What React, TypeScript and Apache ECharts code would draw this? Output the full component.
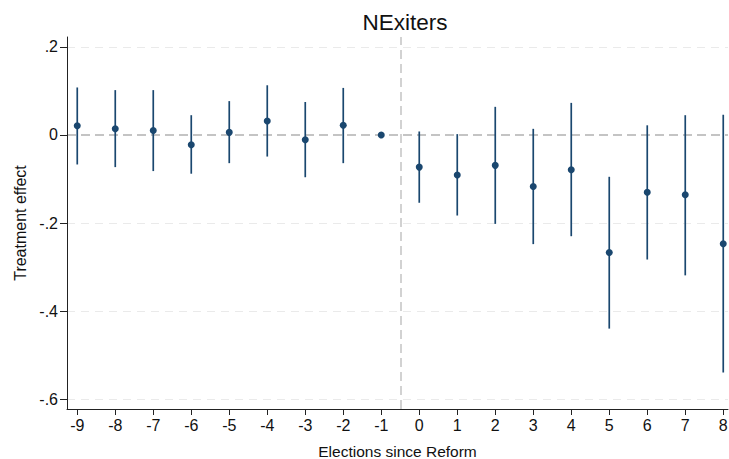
import React, { useEffect, useRef } from "react";
import * as echarts from "echarts";

const elections = [-9, -8, -7, -6, -5, -4, -3, -2, -1, 0, 1, 2, 3, 4, 5, 6, 7, 8];
const estimates = [0.021, 0.014, 0.01, -0.022, 0.006, 0.032, -0.011, 0.022, 0, -0.073, -0.091, -0.069, -0.117, -0.079, -0.267, -0.13, -0.136, -0.247];
const ciLow = [-0.067, -0.073, -0.082, -0.088, -0.064, -0.049, -0.096, -0.064, null, -0.154, -0.183, -0.202, -0.248, -0.23, -0.44, -0.283, -0.319, -0.54];
const ciHigh = [0.108, 0.102, 0.102, 0.045, 0.077, 0.113, 0.075, 0.107, null, 0.008, 0.002, 0.064, 0.014, 0.073, -0.095, 0.022, 0.045, 0.046];
const yTicks = [-0.6, -0.4, -0.2, 0, 0.2];
const gridValues = [-0.6, -0.4, -0.2, 0.2];
const reformLine = -0.5;

const fmtY = (v: number) => {
  if (v === 0) return "0";
  const s = v.toFixed(1);
  return s.replace("0.", ".");
};

export default function App() {
  const ref = useRef<HTMLDivElement>(null);
  useEffect(() => {
    if (!ref.current) return;
    const chart = echarts.init(ref.current, undefined, { renderer: "svg" });
    const navy = "#1a476f";
    const font = "Liberation Sans, Arial, Helvetica, sans-serif";
    const ciData = elections
      .map((x, i) => [x, ciLow[i], ciHigh[i]])
      .filter((d) => d[1] !== null);
    chart.setOption({
      animation: false,
      backgroundColor: "#ffffff",
      title: {
        text: "NExiters",
        left: 400,
        textAlign: "center",
        top: 6,
        textStyle: { fontFamily: font, fontSize: 22.5, fontWeight: "normal", color: "#111" },
      },
      grid: { left: 67, right: 1, top: 37, bottom: 50, containLabel: false, outerBoundsMode: "none" },
      xAxis: {
        type: "value",
        min: -9.27,
        max: 8.125,
        name: "Elections since Reform",
        nameLocation: "middle",
        nameGap: 34,
        nameTextStyle: { fontFamily: font, fontSize: 15.5, color: "#111" },
        axisLine: { show: true, onZero: false, lineStyle: { color: "#222", width: 1 } },
        axisTick: { show: true, length: 6, customValues: elections, lineStyle: { color: "#222" } },
        axisLabel: { customValues: elections, fontFamily: font, fontSize: 16, color: "#111", margin: 8 },
        splitLine: { show: false },
      },
      yAxis: {
        type: "value",
        min: -0.6227,
        max: 0.2227,
        name: "Treatment effect",
        nameLocation: "middle",
        nameGap: 39,
        nameTextStyle: { fontFamily: font, fontSize: 16, color: "#111" },
        axisLine: { show: true, onZero: false, lineStyle: { color: "#222", width: 1 } },
        axisTick: { show: true, length: 7, customValues: yTicks, lineStyle: { color: "#222" } },
        axisLabel: { customValues: yTicks, formatter: fmtY, fontFamily: font, fontSize: 16, color: "#111", margin: 9 },
        splitLine: { show: false },
      },
      series: [
        {
          type: "line",
          data: [],
          silent: true,
          z: 0,
          markLine: {
            symbol: "none",
            silent: true,
            z: 0,
            label: { show: false },
            data: [
              ...gridValues.map((v) => ({
                yAxis: v,
                lineStyle: { color: "#eaeaea", width: 1, type: [8, 6] },
              })),
              { yAxis: 0, lineStyle: { color: "#c4c4c4", width: 2, type: [9, 5] } },
              { xAxis: reformLine, lineStyle: { color: "#c4c4c4", width: 1.5, type: [9, 5] } },
            ],
          },
        },
        {
          type: "custom",
          data: ciData,
          renderItem: (params: any, api: any) => {
            const x = api.value(0);
            const p1 = api.coord([x, api.value(1)]);
            const p2 = api.coord([x, api.value(2)]);
            return {
              type: "line",
              shape: { x1: p1[0], y1: p1[1], x2: p2[0], y2: p2[1] },
              style: { stroke: navy, lineWidth: 1.7 },
            };
          },
          z: 3,
        },
        {
          type: "scatter",
          data: elections.map((x, i) => [x, estimates[i]]),
          symbol: "circle",
          symbolSize: 7,
          itemStyle: { color: navy, opacity: 1 },
          z: 10,
        },
      ],
    });
    return () => chart.dispose();
  }, []);
  return <div ref={ref} style={{ width: 729, height: 459, position: "absolute", left: 0, top: 0 }} />;
}
